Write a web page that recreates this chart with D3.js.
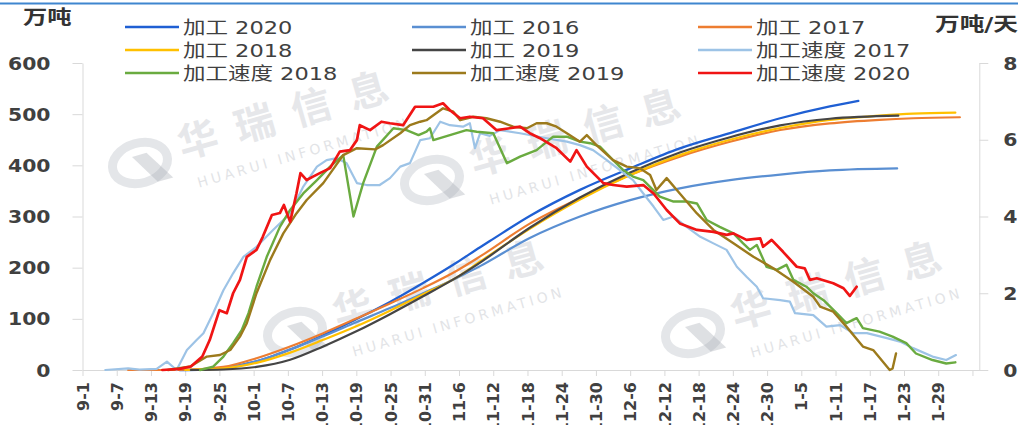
<!DOCTYPE html>
<html>
<head>
<meta charset="utf-8">
<script src="https://cdn.jsdelivr.net/npm/d3@7"></script>
<style>
  body { margin: 0; background: #fff; }
  svg { display: block; }
</style>
</head>
<body>
<svg id="chart" width="1024" height="425"></svg>
<script>
// ---- data: [days since 9-1, value] ----
const tickLabels = ["9-1","9-7","9-13","9-19","9-25","10-1","10-7","10-13","10-19","10-25","10-31",
  "11-6","11-12","11-18","11-24","11-30","12-6","12-12","12-18","12-24","12-30","1-5","1-11","1-17","1-23","1-29",""];
const leftTicks = [0,100,200,300,400,500,600];
const rightTicks = [0,2,4,6,8];

// cumulative processing, 万吨 (left axis)
const cum2020 = [[17,0],[21,1],[24.7,4],[30.5,17],[36.4,40],[42.2,68],[48.1,100],[53.9,133],[59.7,170],[65.6,210],
  [69.7,240],[71.4,252],[78.4,301],[87.2,352],[96,394],[104.7,433],[113.5,463],[122.3,492],[131,515],[136,526]];
const cum2016 = [[18,0],[24.7,4],[30.5,17],[36.4,40],[42.2,66],[48.1,94],[53.9,121],[59.7,150],[65.6,180],[69.7,203],
  [78.4,258],[87.2,300],[96,332],[104.7,355],[113.5,371],[122.3,382],[131,390],[142.8,394]];
const cum2017 = [[8,0],[17,0],[24.7,6],[30.5,23],[36.4,46],[42.2,72],[48.1,101],[53.9,130],[59.7,160],[65.6,194],
  [69.7,222],[78.4,286],[87.2,336],[96,381],[104.7,417],[113.5,446],[122.3,469],[131,482],[139.7,489],[145.6,492],[153.8,494]];
const cum2018 = [[18,0],[24.7,3],[30.5,14],[36.4,34],[42.2,59],[48.1,86],[53.9,116],[59.7,148],[65.6,181],[69.7,212],
  [78.4,276],[87.2,333],[96,381],[104.7,420],[113.5,450],[122.3,473],[131,489],[139.7,497],[145.6,501],[153,503]];
const cum2019 = [[19,0],[24.7,1],[30.5,6],[36.4,20],[42.2,46],[48.1,76],[53.9,109],[59.7,144],[65.6,181],[69.7,210],
  [78.4,278],[87.2,337],[96,386],[104.7,425],[113.5,455],[122.3,478],[131,491],[143,497]];

// daily processing speed, 万吨/天 (right axis)
const speed2017 = [[4,0],[8,0.04],[10,0.01],[13,0.03],[14.8,0.22],[16.5,0],[18.3,0.52],[20,0.78],[21.2,0.96],[22.9,1.48],
  [24.7,2.08],[26.4,2.52],[28.2,2.95],[30.5,3.21],[33.4,3.65],[36.4,4.08],[38.7,4.78],[41.1,5.3],[42.8,5.47],[44.6,5.52],
  [46.3,5.39],[48.1,4.87],[49.8,4.82],[52.1,4.82],[53.9,5.0],[55.7,5.3],[57.4,5.39],[59.2,5.99],[60.9,6.04],[62.7,6.47],
  [64.4,6.38],[66.7,6.34],[67.9,6.43],[68.8,5.78],[69.7,6.17],[71.4,6.1],[73.2,6.25],[76.7,6.17],[81.4,6.04],[84.9,5.95],
  [87.2,5.86],[89.5,5.73],[91.9,5.47],[94.2,5.21],[96.5,4.95],[98.3,4.6],[100.1,4.26],[101.8,3.91],[103.6,4.0],[105.9,3.73],
  [108.3,3.47],[110.6,3.3],[112.9,3.13],[114.7,2.69],[116.4,2.43],[118.2,2.17],[119.3,1.87],[122.3,1.82],[124,1.78],
  [124.9,1.48],[128.1,1.43],[130.4,1.13],[132.8,1.17],[135.1,0.96],[137.5,0.96],[141,0.83],[143.3,0.74],[145.6,0.57],
  [149,0.35],[151.4,0.26],[153.1,0.39]];
const speed2018 = [[20.6,0],[22.9,0.09],[24.7,0.35],[26.4,0.7],[27.9,1.04],[29.1,1.48],[30.5,2.17],[32.3,2.95],[34.6,3.73],
  [36.4,4.17],[38.7,4.6],[41.1,4.95],[43.4,5.3],[45.7,5.6],[47.5,4.0],[49.2,4.87],[51.6,5.82],[54.5,6.3],[56.8,6.25],
  [58.9,6.12],[60.3,6.21],[60.9,6.3],[61.5,5.99],[64.4,6.12],[67.3,6.25],[69.1,6.21],[72,6.17],[74.4,5.39],[76.7,5.56],
  [79.6,5.73],[82.5,6.08],[84.9,6.08],[87.2,5.95],[89,5.91],[90.7,5.82],[93,5.47],[94.8,5.21],[96.5,5.04],[98.3,4.95],
  [101.2,4.52],[103.6,4.39],[105.9,4.39],[107.7,4.34],[109.4,3.91],[111.7,3.73],[114.1,3.56],[115.8,3.3],[117,3.13],
  [118.2,3.26],[119.9,2.69],[121.7,2.61],[123.4,2.74],[124.6,2.35],[126.9,2.17],[128.1,2.0],[129.9,1.82],[132.2,1.48],
  [133.9,1.22],[135.7,1.35],[136.8,1.09],[139.7,1.0],[142,0.87],[144.4,0.7],[146.1,0.43],[149,0.26],[151.4,0.17],[153,0.2]];
const speed2019 = [[15,0],[18.9,0.09],[21.8,0.35],[24.1,0.39],[25.9,0.52],[27.6,0.87],[28.8,1.22],[30.5,2.0],[32.9,2.87],
  [35.2,3.56],[37.5,4.08],[39.3,4.43],[42.2,4.87],[45.7,5.6],[48.1,5.78],[51.3,5.75],[52.7,5.86],[55.7,6.17],[57.4,6.38],
  [59.2,6.47],[60.3,6.51],[61.5,6.64],[63.2,6.82],[65,6.73],[66.2,6.51],[68.5,6.6],[70.8,6.56],[73.2,6.47],[75.5,6.34],
  [77.9,6.3],[79.6,6.43],[81.4,6.43],[83.1,6.34],[84.9,6.17],[87.2,5.95],[88.4,6.12],[90.1,5.86],[93,5.47],[95.4,5.3],
  [97.7,5.26],[99.5,5.08],[100.6,4.69],[102.4,5.0],[104.7,4.6],[107.7,4.08],[110.6,3.65],[114.1,3.3],[117.6,2.95],
  [121.1,2.65],[124.6,2.3],[128.1,1.91],[129.3,1.65],[131.6,1.52],[133.9,1.13],[136.8,0.61],[138.6,0.52],[141.5,0],
  [142,0.04],[142.6,0.43]];
const speed2020 = [[14,0],[17,0.03],[19,0.09],[21,0.35],[22.3,0.78],[24,1.56],[25.3,1.48],[26.4,2.0],[27.6,2.35],[28.8,2.95],
  [30.5,3.13],[31.6,3.47],[33.2,4.04],[34.6,4.09],[35.3,4.3],[36.4,3.86],[37.5,4.6],[38.2,5.13],[39.3,4.95],[40.4,5.04],
  [41.6,5.13],[43.4,5.26],[45.1,5.69],[46.9,5.73],[48.1,5.99],[48.6,6.38],[50.4,6.25],[52.4,6.47],[53.9,6.43],[56.2,6.38],
  [58.3,6.86],[61.5,6.86],[63.2,6.95],[64.4,6.77],[66.2,6.56],[67.9,6.6],[70.2,6.56],[72.6,6.25],[74.9,6.3],[76.7,6.34],
  [78.4,6.17],[80.2,6.04],[83.1,5.78],[85.5,5.43],[86.6,5.73],[88.4,5.3],[91.3,4.87],[93,4.82],[95.4,4.78],[98.3,4.82],
  [100.1,4.6],[102.4,4.17],[104.7,3.82],[107.7,3.65],[110.6,3.6],[112.9,3.52],[114.1,3.56],[116.4,3.39],[118.8,3.43],
  [119.3,3.21],[120.8,3.39],[122.8,3.08],[125.2,2.69],[126.6,2.65],[127.5,2.35],[128.7,2.39],[131.6,2.26],[133.4,2.13],
  [134.5,1.93],[135.7,2.17]];

// ---- series table (legend order) ----
const series = [
  { name: "加工 2020",     data: cum2020,   color: "#1f5fd3", axis: "L", w: 2.3 },
  { name: "加工 2016",     data: cum2016,   color: "#5a8fd2", axis: "L", w: 2.2 },
  { name: "加工 2017",     data: cum2017,   color: "#ed7d31", axis: "L", w: 2.2 },
  { name: "加工 2018",     data: cum2018,   color: "#ffc000", axis: "L", w: 2.2 },
  { name: "加工 2019",     data: cum2019,   color: "#454545", axis: "L", w: 2.2 },
  { name: "加工速度 2017", data: speed2017, color: "#9dc3e6", axis: "R", w: 2.2 },
  { name: "加工速度 2018", data: speed2018, color: "#6aab40", axis: "R", w: 2.4 },
  { name: "加工速度 2019", data: speed2019, color: "#9c7a1c", axis: "R", w: 2.4 },
  { name: "加工速度 2020", data: speed2020, color: "#f01414", axis: "R", w: 2.7 }
];

const FONT = '"DejaVu Sans", "Noto Sans CJK SC", sans-serif';
const INK = "#404040";
const AXIS = "#d9d9d9";

const svg = d3.select("#chart").style("font-family", FONT);

// scales
const x = d3.scaleLinear().domain([0, 157.2]).range([82.5, 979.3]);
const yL = d3.scaleLinear().domain([0, 600]).range([370, 63]);
const yR = d3.scaleLinear().domain([0, 8]).range([370, 63]);

// top rule
svg.append("line").attr("x1", 0).attr("x2", 1018).attr("y1", 3.5).attr("y2", 3.5)
  .attr("stroke", "#3f86cf").attr("stroke-width", 2);

// watermarks
const wm = svg.append("g").attr("class", "watermark");
[[140,163],[432,180],[295,332],[693,333]].forEach(([cx, cy]) => {
  const g = wm.append("g").attr("transform", `translate(${cx},${cy}) rotate(-16)`);
  g.append("ellipse").attr("rx", 28).attr("ry", 20).attr("fill", "none")
    .attr("stroke", "#b9bdc5").attr("stroke-width", 9).attr("opacity", 0.38);
  g.append("path").attr("d", "M-6,-8 L9,-8 L28,23 L12,23 Z").attr("fill", "#a9adb5").attr("opacity", 0.38);
  g.append("text").attr("x", 42).attr("y", 8).text("华瑞信息")
    .attr("font-size", 40).attr("font-weight", "bold").attr("letter-spacing", 19)
    .attr("fill", "#b4b8c0").attr("opacity", 0.32);
  g.append("text").attr("x", 160).attr("y", 40).attr("text-anchor", "middle").text("HUARUI INFORMATION")
    .attr("font-size", 14).attr("letter-spacing", 3.5).attr("fill", "#b4b8c0").attr("opacity", 0.38);
});

// axes
function styleAxis(g) {
  g.selectAll("path.domain").attr("stroke", AXIS);
  g.selectAll(".tick line").attr("stroke", AXIS);
  g.selectAll(".tick text").attr("fill", INK).attr("font-family", FONT).attr("font-weight", "bold");
}

const gx = svg.append("g").attr("transform", "translate(0,370)")
  .call(d3.axisBottom(x).tickValues(d3.range(0, 157, 6)).tickSize(6).tickSizeOuter(0)
    .tickFormat((d, i) => tickLabels[i]));
styleAxis(gx);
gx.selectAll(".tick text").attr("font-size", 16)
  .attr("x", 0).attr("y", 0).attr("dy", "0.35em")
  .attr("text-anchor", "end").attr("transform", "translate(0,12) rotate(-90)");

const gl = svg.append("g").attr("transform", "translate(82.5,0)")
  .call(d3.axisLeft(yL).tickValues(leftTicks).tickSize(10).tickSizeOuter(0));
styleAxis(gl);
gl.selectAll(".tick text").attr("font-size", 17).attr("x", 0).attr("dy", "0.36em")
  .attr("text-anchor", "end").attr("transform", "translate(-32,0) scale(1.2,1)");

const gr = svg.append("g").attr("transform", "translate(979.3,0)")
  .call(d3.axisRight(yR).tickValues(rightTicks).tickSize(9).tickSizeOuter(0));
styleAxis(gr);
gr.selectAll(".tick text").attr("font-size", 17).attr("x", 0).attr("dy", "0.36em")
  .attr("text-anchor", "start").attr("transform", "translate(24,0) scale(1.2,1)");

// axis titles
svg.append("text").text("万吨").attr("transform", "translate(23,23.5) scale(1.28,1)")
  .attr("font-size", 19).attr("font-weight", "bold").attr("fill", "#333");
svg.append("text").text("万吨/天").attr("transform", "translate(935,30.5) scale(1.3,1)")
  .attr("font-size", 19).attr("font-weight", "bold").attr("fill", "#333");

// lines
const lineL = d3.line().x(d => x(d[0])).y(d => yL(d[1])).curve(d3.curveMonotoneX);
const lineR = d3.line().x(d => x(d[0])).y(d => yR(d[1]));
const plot = svg.append("g").attr("fill", "none").attr("stroke-linejoin", "round").attr("stroke-linecap", "round");
series.forEach(s => {
  plot.append("path").datum(s.data)
    .attr("d", s.axis === "L" ? lineL : lineR)
    .attr("stroke", s.color).attr("stroke-width", s.w);
});

// legend: 3 columns x 3 rows
const colX = [125, 412, 698];
const rowY = [27, 50, 73];
const legend = svg.append("g");
series.forEach((s, i) => {
  const cx = colX[i % 3], cy = rowY[Math.floor(i / 3)];
  legend.append("line").attr("x1", cx).attr("x2", cx + 54).attr("y1", cy).attr("y2", cy)
    .attr("stroke", s.color).attr("stroke-width", 2.6);
  legend.append("text").text(s.name)
    .attr("transform", `translate(${cx + 58},${cy + 6.5}) scale(1.25,1)`)
    .attr("font-size", 18).attr("fill", INK);
});
</script>
</body>
</html>
